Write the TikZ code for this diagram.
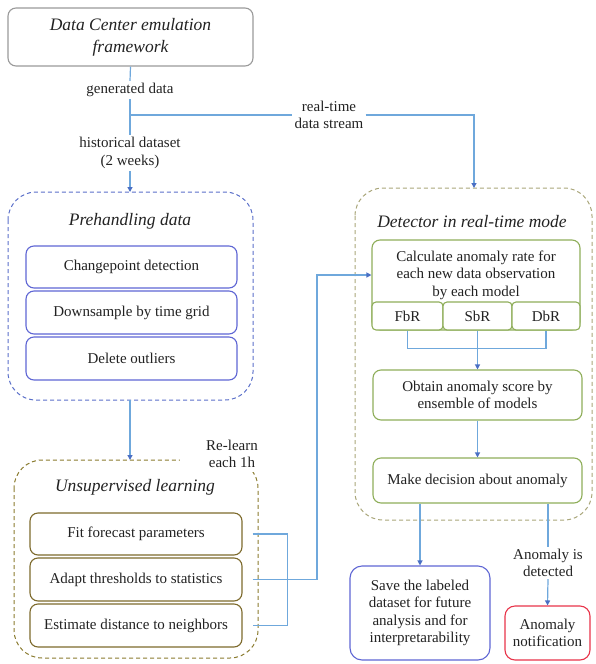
\documentclass[tikz,border=0pt]{standalone}
\usepackage{fontspec}
\setmainfont{Liberation Serif}
\usepackage{xcolor}
\usetikzlibrary{arrows.meta,positioning,calc}
\definecolor{flow}{HTML}{6FA8DC}
\definecolor{tip}{HTML}{4A6FC4}
\definecolor{pre}{HTML}{5A6FC9}
\definecolor{preb}{HTML}{5F66D4}
\definecolor{learn}{HTML}{8A7B2E}
\definecolor{learnb}{HTML}{7D6A2C}
\definecolor{det}{HTML}{A9A67A}
\definecolor{detb}{HTML}{8FAE5A}
\definecolor{frame}{HTML}{9A9A9A}
\definecolor{alarm}{HTML}{E8344A}
\definecolor{ink}{HTML}{222222}
\newcommand{\txt}{\fontsize{15}{17.5}\selectfont}
\newcommand{\ttl}{\fontsize{17.5}{22}\selectfont\itshape}
\tikzset{
  blk/.style={draw, line width=1.1pt, rounded corners=8pt, fill=white,
              align=center, text=ink, font=\txt, inner sep=2pt},
  preb/.style={blk, draw=preb, minimum width=211pt, minimum height=42pt},
  lrnb/.style={blk, draw=learnb, minimum width=212pt, minimum height=42pt},
  detbx/.style={blk, draw=detb, minimum width=209pt},
  subb/.style={blk, draw=detb, rounded corners=4pt, minimum height=28pt},
  grp/.style={draw, dash pattern=on 4pt off 3pt, line width=1pt,
              rounded corners=28pt},
  ttl/.style={font=\ttl, text=ink, align=center},
  lbl/.style={font=\txt, text=ink, align=center, inner sep=2pt},
  ln/.style={draw=flow, line width=1.2pt},
  ar/.style={ln, -{Triangle[length=5pt,width=5pt,color=tip]}},
}
\begin{document}
\begin{tikzpicture}[x=1pt, y=-1pt]
  \useasboundingbox (0,0) rectangle (595,664);

  % --- source and the two data paths ---
  \node[blk, draw=frame, font=\ttl, minimum width=245pt, minimum height=58pt]
       (emu) at (130.5,37) {Data Center emulation\\framework};
  \node[lbl] (gen) at (130,90) {generated data};
  \node[lbl] (hist) at (130,153) {historical dataset\\(2 weeks)};
  \node[lbl] (rt) at (329,115) {real-time\\data stream};
  \coordinate (split) at (130,115);

  % --- prehandling ---
  \draw[grp, draw=pre] (8,192) rectangle (253,400);
  \coordinate (pretop) at (130,192);
  \coordinate (prebot) at (130,400);
  \node[ttl] (pret) at (130,221) {Prehandling data};
  \node[preb] (cp) at (131.5,267) {Changepoint detection};
  \node[preb, minimum height=43pt] (ds) at (131.5,312.5) {Downsample by time grid};
  \node[preb, minimum height=43pt] (out) at (131.5,358.5) {Delete outliers};

  % --- unsupervised learning ---
  \draw[grp, draw=learn] (14,460) rectangle (258,658);
  \coordinate (lrntop) at (130,460);
  \node[lbl, fill=white, inner xsep=26pt, inner ysep=4pt] (relearn) at (232,454)
       {Re-learn\\each 1h};
  \node[ttl] (lrnt) at (135,487) {Unsupervised learning};
  \node[lrnb] (fit) at (136,534) {Fit forecast parameters};
  \node[lrnb, minimum height=43pt] (adapt) at (136,579.5) {Adapt thresholds to statistics};
  \node[lrnb, minimum height=43pt] (dist) at (136,625.5) {Estimate distance to neighbors};

  % --- detector ---
  \draw[grp, draw=det] (355,188) rectangle (592,520);
  \coordinate (dettop) at (474,188);
  \node[ttl] (dett) at (472,222) {Detector in real-time mode};
  \node[blk, draw=detb, minimum width=208pt, minimum height=90pt] (calc) at (476,285) {};
  \node[lbl] (calct) at (476,275)
       {Calculate anomaly rate for\\each new data observation\\by each model};
  \node[subb, minimum width=71pt] (fbr) at (407.5,316) {FbR};
  \node[subb, minimum width=69pt] (sbr) at (477.5,316) {SbR};
  \node[subb, minimum width=68pt] (dbr) at (546,316) {DbR};
  \node[detbx, minimum height=50pt] (score) at (477.5,395)
       {Obtain anomaly score by\\ensemble of models};
  \node[detbx, minimum height=45pt] (decide) at (477.5,480.5)
       {Make decision about anomaly};

  % --- outputs ---
  \node[blk, draw=preb, rounded corners=12pt, minimum width=140pt, minimum height=94pt]
       (save) at (420,613)
       {Save the labeled\\dataset for future\\analysis and for\\interpretarability};
  \node[lbl] (found) at (548,563) {Anomaly is\\detected};
  \node[blk, draw=alarm, rounded corners=10pt, minimum width=85pt, minimum height=54pt]
       (notif) at (547.5,633) {Anomaly\\notification};

  % --- connectors ---
  \draw[ln] (emu.south) -- (gen.north);
  \draw[ln] (gen.south) -- (hist.north);
  \draw[ln] (split) -- (rt.west);
  \draw[ar] (rt.east) -| (dettop);
  \draw[ar] (hist.south) -- (pretop);
  \draw[ar] (prebot) -- (lrntop);

  \draw[ln] ([xshift=10pt]fit.east) -- ++(35,0) |- ([xshift=10pt]dist.east);
  \draw[ar] ([xshift=10pt]adapt.east) -- (317,579.5) |- ([yshift=10pt]calc.west);

  \draw[ln] (fbr.south) -- ++(0,18) -| (dbr.south);
  \draw[ar] (sbr.south) -- (score.north);
  \draw[ar] (score.south) -- (decide.north);
  \draw[ar] (save.north |- decide.south) -- (save.north);
  \draw[ln] (found.north |- decide.south) -- (found.north);
  \draw[ar] (found.south) -- (notif.north);
\end{tikzpicture}
\end{document}
